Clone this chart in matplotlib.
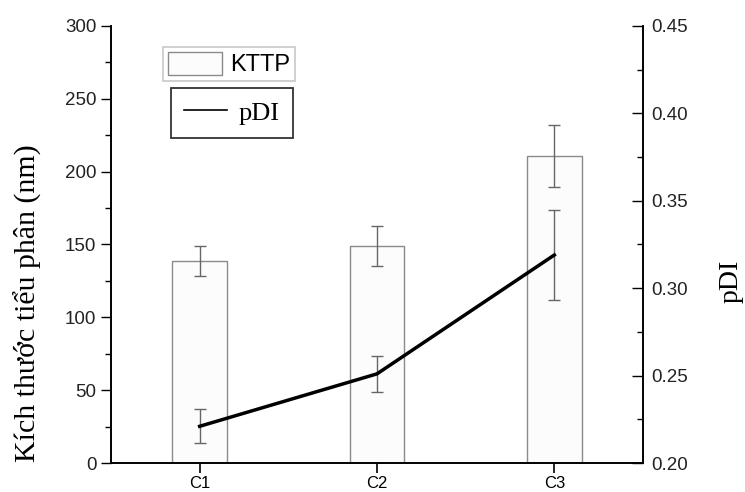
import matplotlib.pyplot as plt
from matplotlib.ticker import MultipleLocator

categories = ['C1', 'C2', 'C3']
size_nm = [139, 149, 210.7]
size_err = [10.3, 13.5, 21.0]
pdi = [0.221, 0.251, 0.319]
pdi_err = [0.0097, 0.0101, 0.026]

plt.rcParams['font.family'] = ['Liberation Sans', 'DejaVu Sans']
serif = ['Liberation Serif', 'DejaVu Serif']

fig = plt.figure(figsize=(7.45, 4.92), dpi=100)
ax = fig.add_axes([111 / 745, 1 - 463 / 492, 532 / 745, 437 / 492])
ax2 = ax.twinx()

x = range(1, len(categories) + 1)
bars = ax.bar(x, size_nm, width=0.31, color='#fcfcfc', edgecolor='#8a8a8a',
              linewidth=1.0, label='KTTP', zorder=2)
ax.errorbar(x, size_nm, yerr=size_err, fmt='none', ecolor='#666666',
            elinewidth=1.0, capsize=4, capthick=1.0, zorder=3)

line, = ax2.plot(x, pdi, color='black', linewidth=2.5, label='pDI', zorder=4)
ax2.errorbar(x, pdi, yerr=pdi_err, fmt='none', ecolor='#666666',
             elinewidth=1.0, capsize=4, capthick=1.0, zorder=3)

ax.set_xlim(0.5, 3.5)
ax.set_ylim(0, 300)
ax2.set_ylim(0.20, 0.45)
ax.set_xticks(list(x))
ax.set_xticklabels(categories)

ax.yaxis.set_major_locator(MultipleLocator(50))
ax.yaxis.set_minor_locator(MultipleLocator(25))
ax2.yaxis.set_major_locator(MultipleLocator(0.05))
ax2.yaxis.set_minor_locator(MultipleLocator(0.025))
ax2.yaxis.set_major_formatter(plt.FormatStrFormatter('%.2f'))

for a in (ax, ax2):
    a.spines['top'].set_visible(False)
    for s in a.spines.values():
        s.set_linewidth(1.2)

ax.tick_params(axis='x', direction='out', length=7, width=1.2, labelsize=12, pad=2.5)
ax.tick_params(axis='y', which='major', direction='out', length=7, width=1.0,
               labelsize=13.5, labelcolor='#222222')
ax.tick_params(axis='y', which='minor', direction='out', length=4, width=1.0)
ax2.tick_params(axis='y', which='major', direction='in', length=8, width=1.0,
                labelsize=13.5, labelcolor='#222222', pad=6)
ax2.tick_params(axis='y', which='minor', direction='in', length=4, width=1.0)

# label positions (pixels -> axes fraction)
ax.set_ylabel('Kích thước tiểu phân (nm)', family=serif, fontsize=21.5)
ax.yaxis.set_label_coords((42 - 111) / 532, (463 - 303) / 437)
ax2.set_ylabel('pDI', family=serif, fontsize=20)
ax2.yaxis.set_label_coords((719 - 111) / 532, (463 - 281) / 437)

leg1 = ax.legend(handles=[bars], loc='upper left', bbox_to_anchor=(0.098, 0.952),
                 frameon=True, fancybox=False, edgecolor='#bbbbbb',
                 prop={'size': 17}, handlelength=2.3, handleheight=1.15,
                 borderpad=0.2, handletextpad=0.35, borderaxespad=0)
leg1.get_frame().set_linewidth(1.2)
leg2 = ax2.legend(handles=[line], loc='upper left', bbox_to_anchor=(0.113, 0.858),
                  frameon=True, fancybox=False, edgecolor='black',
                  prop={'family': serif, 'size': 19}, handlelength=1.6,
                  borderpad=0.5, handletextpad=0.45, borderaxespad=0)
leg2.get_frame().set_linewidth(1.3)
leg2.get_lines()[0].set_linewidth(1.2)

fig.savefig('out.png', dpi=100)
